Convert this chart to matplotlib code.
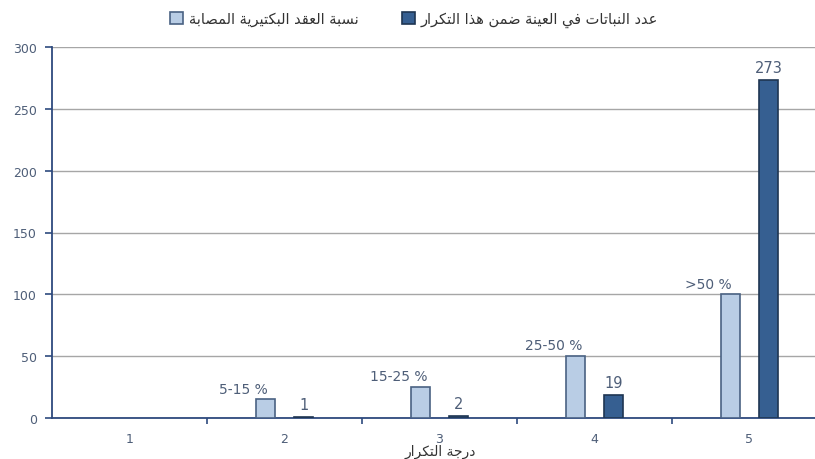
import matplotlib
matplotlib.use("Agg")
import matplotlib.pyplot as plt
from matplotlib.patches import Patch

# ---------------- data ----------------
categories = [1, 2, 3, 4, 5]
infected_pct = [0, 15, 25, 50, 100]          # light bars
plant_counts = [0, 1, 2, 19, 273]            # dark bars
infected_labels = ["", "5-15 %", "15-25 %", "25-50 %", ">50 %"]
count_labels = ["", "1", "2", "19", "273"]
yticks = [0, 50, 100, 150, 200, 250, 300]
legend_light = "نسبة العقد البكتيرية المصابة"
legend_dark = "عدد النباتات في العينة ضمن هذا التكرار"
xlabel_text = "درجة التكرار"

# ---------------- minimal Arabic shaping ----------------
FORMS = {
    'ا': ('\uFE8D', '\uFE8E', None, None),
    'ب': ('\uFE8F', '\uFE90', '\uFE91', '\uFE92'),
    'ة': ('\uFE93', '\uFE94', None, None),
    'ت': ('\uFE95', '\uFE96', '\uFE97', '\uFE98'),
    'ج': ('\uFE9D', '\uFE9E', '\uFE9F', '\uFEA0'),
    'د': ('\uFEA9', '\uFEAA', None, None),
    'ذ': ('\uFEAB', '\uFEAC', None, None),
    'ر': ('\uFEAD', '\uFEAE', None, None),
    'س': ('\uFEB1', '\uFEB2', '\uFEB3', '\uFEB4'),
    'ص': ('\uFEB9', '\uFEBA', '\uFEBB', '\uFEBC'),
    'ض': ('\uFEBD', '\uFEBE', '\uFEBF', '\uFEC0'),
    'ع': ('\uFEC9', '\uFECA', '\uFECB', '\uFECC'),
    'ف': ('\uFED1', '\uFED2', '\uFED3', '\uFED4'),
    'ق': ('\uFED5', '\uFED6', '\uFED7', '\uFED8'),
    'ك': ('\uFED9', '\uFEDA', '\uFEDB', '\uFEDC'),
    'ل': ('\uFEDD', '\uFEDE', '\uFEDF', '\uFEE0'),
    'م': ('\uFEE1', '\uFEE2', '\uFEE3', '\uFEE4'),
    'ن': ('\uFEE5', '\uFEE6', '\uFEE7', '\uFEE8'),
    'ه': ('\uFEE9', '\uFEEA', '\uFEEB', '\uFEEC'),
    'ي': ('\uFEF1', '\uFEF2', '\uFEF3', '\uFEF4'),
}


def joins_next(ch):
    return ch in FORMS and FORMS[ch][2] is not None


def shape(text):
    out = []
    n = len(text)
    for i, ch in enumerate(text):
        if ch not in FORMS:
            out.append(ch)
            continue
        prev = text[i - 1] if i > 0 else ''
        nxt = text[i + 1] if i < n - 1 else ''
        jp = joins_next(prev)
        jn = (nxt in FORMS) and FORMS[ch][2] is not None
        iso, fin, ini, med = FORMS[ch]
        if jp and jn:
            out.append(med)
        elif jp:
            out.append(fin)
        elif jn:
            out.append(ini)
        else:
            out.append(iso)
    return ''.join(out)[::-1]


# ---------------- figure ----------------
plt.rcParams['font.family'] = ['DejaVu Sans']
fig = plt.figure(figsize=(8.15, 4.6), dpi=100)
ax = fig.add_axes([52 / 815, 41 / 460, 775 / 815, 371 / 460])

light_face = '#B9CDE5'
light_edge = '#4A6283'
dark_face = '#365F91'
dark_edge = '#1E3552'
navy = '#2E4A7E'
txt = '#4E5E78'

w = 0.125
off = 0.123
xs = list(categories)
ax.bar([x - off for x in xs], infected_pct, width=w, color=light_face,
       edgecolor=light_edge, linewidth=[1.2 if v else 0 for v in infected_pct],
       zorder=3)
ax.bar([x + off for x in xs], plant_counts, width=w, color=dark_face,
       edgecolor=dark_edge, linewidth=[1.2 if v else 0 for v in plant_counts],
       zorder=3)

for x, v, lab in zip(xs, infected_pct, infected_labels):
    if lab:
        ax.text(x - off - 0.14, v + 3, lab, ha='center', va='bottom',
                fontsize=10, color=txt)
for x, v, lab in zip(xs, plant_counts, count_labels):
    if lab:
        ax.text(x + off, v + 4, lab, ha='center', va='bottom',
                fontsize=10.5, color=txt)

ax.set_xlim(0.5, 5.5)
ax.set_ylim(0, 300)
ax.set_yticks(yticks)
ax.set_yticklabels([str(t) for t in yticks], fontsize=9, color=txt)
ax.yaxis.grid(True, color='#A6A6A6', linewidth=1.0, zorder=0)
ax.set_axisbelow(True)

ax.set_xticks(categories)
ax.set_xticklabels([str(c) for c in categories], fontsize=9, color=txt)
ax.tick_params(axis='x', which='major', length=0, pad=10)
ax.set_xticks([1.5, 2.5, 3.5, 4.5], minor=True)
ax.tick_params(axis='x', which='minor', length=4, color=navy, width=1.2)
ax.tick_params(axis='y', length=5, color=navy, width=1.2, pad=6)

for s in ['top', 'right']:
    ax.spines[s].set_visible(False)
for s in ['left', 'bottom']:
    ax.spines[s].set_color(navy)
    ax.spines[s].set_linewidth(1.3)

ax.set_xlabel(shape(xlabel_text), fontsize=10, color='#333333')
ax.xaxis.label.set_va('center')
ax.xaxis.set_label_coords((440 - 52) / 775, -33 / 371)

handles = [Patch(facecolor=light_face, edgecolor=light_edge, linewidth=1.2),
           Patch(facecolor=dark_face, edgecolor=dark_edge, linewidth=1.2)]
fig.legend(handles, [shape(legend_light), shape(legend_dark)], ncol=2,
           loc='center', bbox_to_anchor=(414 / 815, 1 - 20 / 460), frameon=False,
           fontsize=10.5, handlelength=0.9, handleheight=0.9, handletextpad=0.4,
           columnspacing=3.0, labelcolor='#333333')

fig.savefig('out.png', dpi=100)
